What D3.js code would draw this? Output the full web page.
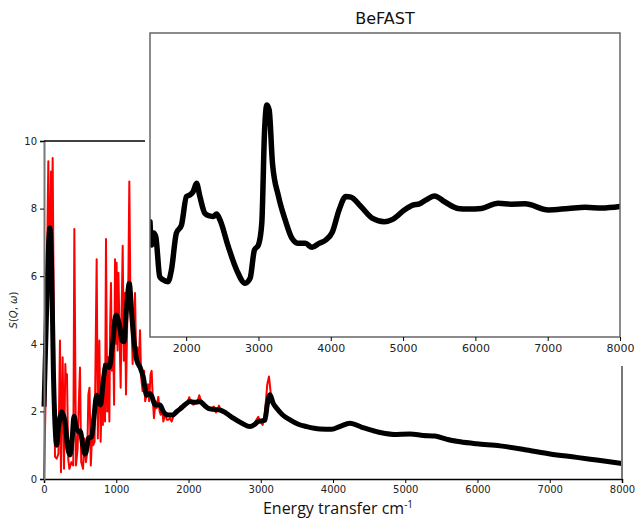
<!DOCTYPE html>
<html>
<head>
<meta charset="utf-8">
<script src="https://cdn.jsdelivr.net/npm/d3@7"></script>
<style>
  body { margin: 0; background: #fff; }
  svg { display: block; }
  .tick text { font-family: "DejaVu Sans", sans-serif; font-size: 10px; fill: #222; }
</style>
</head>
<body>
<svg id="svg1" width="637" height="519"></svg>
<script>
// raw spectrum (red)
var rawE = [0, 20, 40, 60, 75, 83, 97, 108, 120, 135, 152, 175, 200, 221, 235, 258, 277, 295, 304, 318,
  335, 351, 380, 405, 420, 443, 465, 480, 498, 515, 540, 560, 580, 600, 614, 630, 648, 665, 680, 700,
  729, 745, 766, 784, 800, 815, 830, 845, 858, 875, 890, 905, 915, 927, 940, 955, 970, 983, 995, 1005,
  1018, 1030, 1045, 1061, 1075, 1089, 1105, 1120, 1135, 1150, 1168, 1181, 1195, 1212, 1227, 1245, 1260, 1275, 1290, 1310,
  1329, 1345, 1365, 1385, 1400, 1421, 1440, 1455, 1475, 1490, 1505, 1522, 1545, 1560, 1582, 1600, 1615, 1635, 1652, 1680,
  1700, 1720, 1745, 1767, 1790, 1813, 1840, 1860, 1882, 1915, 1950, 1975, 2011, 2035, 2066, 2103, 2125, 2149, 2175, 2204,
  2240, 2270, 2297, 2325, 2352, 2380, 2400, 2422, 2440, 2458, 2500, 2550, 2620, 2700, 2780, 2851, 2900, 2940, 2966, 2990,
  3027, 3060, 3090, 3114, 3135, 3151, 3180, 3221, 3300, 3405, 3520, 3636, 3820, 3981, 4235, 4604, 5066, 5412, 5989, 6681, 7373, 8000];
var rawS = [0, 2.1, 6.0, 9.4, 6.5, 5.7, 9.1, 7.0, 9.5, 5.0, 0.66, 0.6, 0.75, 4.1, 0.2, 3.6, 0.3, 3.4, 2.9, 3.1,
  0.6, 0.3, 0.5, 0.4, 7.4, 0.4, 0.9, 2.1, 3.3, 0.5, 0.3, 1.2, 0.5, 0.8, 2.5, 2.7, 0.4, 1.3, 1.0, 1.1,
  6.5, 1.2, 4.1, 1.1, 2.5, 1.6, 3.4, 1.7, 7.1, 2.0, 3.6, 1.7, 4.5, 5.8, 3.2, 4.7, 2.2, 6.5, 4.0, 6.4,
  3.8, 6.1, 4.4, 2.7, 5.0, 6.9, 3.5, 5.5, 2.5, 4.4, 6.0, 8.8, 5.6, 4.6, 3.4, 4.5, 5.5, 3.6, 3.9, 3.3,
  4.4, 3.0, 2.6, 3.2, 2.3, 2.5, 2.8, 2.3, 3.1, 3.2, 2.4, 1.8, 2.3, 2.1, 2.43, 2.0, 1.9, 2.1, 1.7, 1.95,
  1.75, 1.75, 1.8, 1.7, 1.85, 1.9, 2.0, 2.05, 2.14, 2.1, 2.14, 2.2, 2.42, 2.25, 2.2, 2.25, 2.3, 2.48, 2.3, 2.19,
  2.15, 2.1, 2.04, 2.1, 2.14, 1.97, 2.05, 2.17, 2.05, 2.0, 1.97, 1.9, 1.8, 1.7, 1.6, 1.55, 1.6, 1.75, 1.84, 1.7,
  1.6, 2.0, 2.8, 3.03, 2.6, 2.34, 2.15, 2.05, 1.9, 1.75, 1.62, 1.55, 1.48, 1.47, 1.65, 1.40, 1.33, 1.27, 1.04, 0.86, 0.64, 0.46];

// broadened spectrum (black)
var smoothE = [0, 30, 60, 83, 105, 130, 160, 175, 200, 245, 290, 330, 360, 390, 415, 445, 475, 500, 540, 567,
  600, 614, 660, 690, 729, 760, 784, 820, 858, 904, 950, 996, 1040, 1080, 1107, 1140, 1181, 1220, 1250, 1283,
  1330, 1375, 1421, 1467, 1500, 1536, 1605, 1650, 1700, 1744, 1790, 1836, 1900, 1951, 2020, 2080, 2159, 2220, 2274, 2350,
  2436, 2520, 2620, 2740, 2851, 2920, 2966, 3058, 3090, 3128, 3170, 3221, 3300, 3405, 3520, 3636, 3820, 3981, 4100, 4235,
  4400, 4604, 4834, 5066, 5250, 5412, 5600, 5758, 5989, 6311, 6681, 7003, 7373, 7650, 8000];
var smoothS = [2.14, 4.5, 6.8, 7.43, 6.3, 3.2, 1.3, 1.0, 1.5, 1.99, 1.7, 0.9, 0.71, 1.2, 1.86, 1.55, 1.40, 1.42, 0.95, 0.74,
  1.0, 1.21, 1.25, 1.8, 2.48, 2.3, 2.19, 2.9, 3.37, 3.3, 4.0, 4.85, 4.6, 4.1, 4.06, 5.0, 5.79, 4.7, 4.0, 3.52,
  3.3, 3.0, 2.48, 2.53, 2.4, 2.19, 2.19, 2.0, 1.9, 1.89, 1.9, 1.99, 2.1, 2.2, 2.29, 2.27, 2.29, 2.18, 2.09, 2.06,
  2.04, 1.95, 1.80, 1.65, 1.55, 1.62, 1.70, 1.74, 2.2, 2.49, 2.25, 2.09, 1.9, 1.75, 1.62, 1.55, 1.48, 1.47, 1.56, 1.65,
  1.53, 1.40, 1.32, 1.33, 1.29, 1.27, 1.16, 1.10, 1.04, 0.98, 0.86, 0.74, 0.64, 0.56, 0.46];

// inset (BeFAST)
var insetE = [1500, 1522, 1550, 1580, 1635, 1680, 1750, 1796, 1865, 1935, 2004, 2050, 2097, 2143, 2190, 2259, 2329, 2375, 2421, 2468,
  2583, 2699, 2815, 2884, 2944, 3000, 3046, 3083, 3116, 3148, 3194, 3278, 3370, 3463, 3556, 3648, 3741, 3838, 3931, 4023,
  4115, 4208, 4278, 4417, 4579, 4740, 4856, 5018, 5134, 5226, 5319, 5435, 5574, 5759, 5900, 6083, 6315, 6500, 6685, 7009,
  7287, 7519, 7750, 8000];
var insetS = [3.79, 3.03, 3.42, 3.30, 1.98, 1.88, 1.82, 2.20, 3.42, 3.68, 4.62, 4.67, 4.78, 5.06, 4.62, 4.07, 3.98, 3.96, 4.05, 3.85,
  2.97, 2.20, 1.77, 1.93, 2.86, 3.03, 3.74, 6.70, 7.63, 7.47, 5.71, 4.62, 3.85, 3.25, 3.08, 3.08, 2.95, 3.08, 3.19, 3.46,
  4.18, 4.62, 4.60, 4.29, 3.90, 3.79, 3.87, 4.18, 4.34, 4.38, 4.51, 4.64, 4.45, 4.23, 4.21, 4.23, 4.40, 4.37, 4.38, 4.18,
  4.23, 4.27, 4.24, 4.29];

var mainTicksX = [0, 1000, 2000, 3000, 4000, 5000, 6000, 7000, 8000];
var mainTicksY = [0, 2, 4, 6, 8, 10];
var insetTicksX = [2000, 3000, 4000, 5000, 6000, 7000, 8000];

var svg = d3.select("#svg1");

// main axes
var x = d3.scaleLinear().domain([0, 8000]).range([44, 622]);
var y = d3.scaleLinear().domain([0, 10]).range([479, 141]);

var raw = rawE.map(function(e, i) { return [e, rawS[i]]; });
var smooth = smoothE.map(function(e, i) { return [e, smoothS[i]]; });
var inset = insetE.map(function(e, i) { return [e, insetS[i]]; });

svg.append("path")
   .datum(raw)
   .attr("fill", "none")
   .attr("stroke", "#ff0000")
   .attr("stroke-width", 2)
   .attr("stroke-linejoin", "round")
   .attr("d", d3.line().x(function(d) { return x(d[0]); }).y(function(d) { return y(d[1]); }));

svg.append("path")
   .datum(smooth)
   .attr("fill", "none")
   .attr("stroke", "#000")
   .attr("stroke-width", 5)
   .attr("stroke-linejoin", "round")
   .attr("d", d3.line().curve(d3.curveMonotoneX).x(function(d) { return x(d[0]); }).y(function(d) { return y(d[1]); }));

var gx = svg.append("g")
   .attr("transform", "translate(0,479)")
   .call(d3.axisBottom(x).tickValues(mainTicksX).tickFormat(d3.format("d")).tickSize(4).tickPadding(3));
gx.select(".domain").attr("stroke", "#000").attr("stroke-width", 1.5);

var gy = svg.append("g")
   .attr("transform", "translate(44,0)")
   .call(d3.axisLeft(y).tickValues(mainTicksY).tickFormat(d3.format("d")).tickSize(4).tickPadding(3));
gy.select(".domain").attr("stroke", "#777").attr("stroke-width", 2);

// top and right edges of the main frame
svg.append("line").attr("x1", 44).attr("x2", 622).attr("y1", 141).attr("y2", 141)
   .attr("stroke", "#000").attr("stroke-width", 1.5);
svg.append("line").attr("x1", 622).attr("x2", 622).attr("y1", 141).attr("y2", 479)
   .attr("stroke", "#777").attr("stroke-width", 2);

svg.append("text")
   .attr("x", 338).attr("y", 514)
   .attr("text-anchor", "middle")
   .style("font-family", "'Open Sans', sans-serif")
   .style("font-size", "16px")
   .attr("fill", "#111")
   .html("Energy transfer cm<tspan dy='-6' font-size='10px'>-1</tspan>");

svg.append("text")
   .attr("transform", "translate(17,310) rotate(-90)")
   .attr("text-anchor", "middle")
   .style("font-family", "'DejaVu Sans', sans-serif")
   .style("font-size", "10px")
   .attr("fill", "#222")
   .html("<tspan font-style='italic'>S</tspan>(<tspan font-style='italic'>Q</tspan>, <tspan font-style='italic'>ω</tspan>)");

// inset panel, pasted over the main plot
svg.append("rect")
   .attr("x", 145).attr("y", 0).attr("width", 492).attr("height", 366)
   .attr("fill", "#fff");

var xi = d3.scaleLinear().domain([1500, 8000]).range([150, 620]);
var yi = d3.scaleLinear().domain([0, 10]).range([337, 33]);

svg.append("clipPath").attr("id", "clip-inset")
   .append("rect").attr("x", 150).attr("y", 33).attr("width", 470).attr("height", 304);

svg.append("path")
   .datum(inset)
   .attr("clip-path", "url(#clip-inset)")
   .attr("fill", "none")
   .attr("stroke", "#000")
   .attr("stroke-width", 5.5)
   .attr("stroke-linejoin", "round")
   .attr("stroke-linecap", "round")
   .attr("d", d3.line().curve(d3.curveMonotoneX).x(function(d) { return xi(d[0]); }).y(function(d) { return yi(d[1]); }));

svg.append("rect")
   .attr("x", 150).attr("y", 33).attr("width", 470).attr("height", 304)
   .attr("fill", "none")
   .attr("stroke", "#666")
   .attr("stroke-width", 1.5);

var gxi = svg.append("g")
   .attr("transform", "translate(0,337)")
   .call(d3.axisBottom(xi).tickValues(insetTicksX).tickFormat(d3.format("d")).tickSize(4).tickPadding(3));
gxi.select(".domain").remove();
gxi.selectAll(".tick text").style("font-size", "11px");

svg.append("text")
   .attr("x", 385).attr("y", 24)
   .attr("text-anchor", "middle")
   .style("font-family", "'DejaVu Sans', sans-serif")
   .style("font-size", "16px")
   .attr("fill", "#111")
   .text("BeFAST");
</script>
</body>
</html>
